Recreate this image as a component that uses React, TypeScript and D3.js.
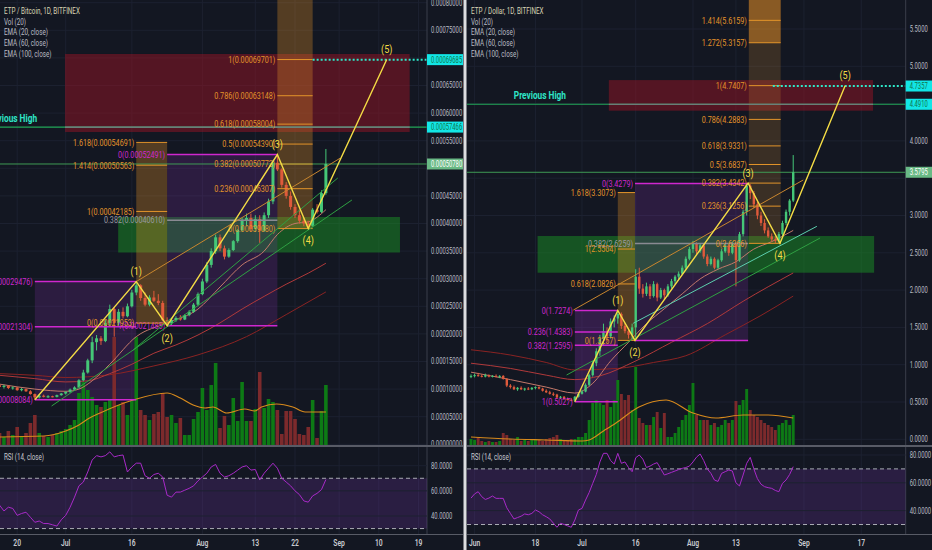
import React from "react";
import * as d3 from "d3";

const JUL1 = Date.UTC(2018, 6, 1);
const DAY = 86400000;
const dayToDate = (d: number) => new Date(JUL1 + d * DAY);

type Pt = [number, number];

// ================= LEFT: ETP / Bitcoin (prices in satoshi) =================
const L_START_DAY = -15; // 2018-06-16
const L_CANDLES: number[][] = [
  [10700, 11000, 10300, 10400], [10400, 10800, 10100, 10600], [10600, 10700, 10000, 10200], [10200, 10500, 9900, 10300],
  [10300, 10400, 9700, 9800], [9800, 10200, 9600, 10000], [10000, 10100, 9500, 9600], [9600, 9800, 9000, 9100],
  [9100, 9200, 8084, 8500], [8500, 9000, 8300, 8800], [8800, 9000, 8500, 8600], [8600, 8900, 8400, 8700],
  [8700, 8800, 8500, 8600], [8600, 9000, 8500, 8900], [8900, 9300, 8800, 9200], [9200, 9600, 9000, 9500],
  [9500, 10100, 9300, 9900], [9900, 10500, 9700, 10300], [10300, 11800, 10100, 11600], [11600, 13500, 11400, 13000],
  [13000, 15500, 12800, 15200], [15200, 19500, 14700, 18500], [18500, 19800, 17000, 19200], [19200, 19600, 18000, 18700],
  [18700, 22500, 18500, 22000], [22000, 25300, 21500, 24500], [24500, 24800, 19500, 22000], [22000, 24500, 21500, 24000],
  [24000, 24800, 22800, 23200], [23200, 25500, 23000, 25000], [25000, 28000, 24800, 27500], [27500, 29476, 27000, 28800],
  [28800, 29000, 26000, 26500], [26500, 27500, 25000, 25300], [25300, 27000, 25000, 26600], [26600, 27800, 25800, 26000],
  [26000, 27200, 25200, 25600], [25600, 26000, 22300, 22500], [22500, 23000, 21485, 21900], [21900, 22800, 21600, 22500],
  [22500, 23200, 22200, 22900], [22900, 23400, 22400, 22600], [22600, 23600, 22500, 23400], [23400, 24300, 23200, 24000],
  [24000, 25600, 23800, 25300], [25300, 27500, 25000, 27200], [27200, 30000, 27000, 29500], [29500, 33000, 29200, 32500],
  [32500, 35500, 32000, 35000], [35000, 38000, 34500, 37500], [37500, 38000, 35000, 35500], [35500, 36000, 33500, 34000],
  [34000, 35500, 33800, 35200], [35200, 37000, 35000, 36800], [36800, 39000, 36500, 38800], [38800, 41000, 38500, 40500],
  [40500, 41800, 39500, 41000], [41000, 41800, 38500, 39000], [39000, 41500, 38500, 40800], [40800, 41500, 36500, 38700],
  [38700, 42000, 38500, 41500], [41500, 44500, 41000, 44000], [44000, 51500, 43500, 51000], [51000, 52491, 49500, 49800],
  [49800, 50000, 46500, 47000], [47000, 47500, 44500, 45000], [45000, 45800, 42500, 43000], [43000, 43500, 41000, 41500],
  [41500, 42500, 40000, 40500], [40500, 41000, 39500, 40000], [40000, 40500, 39080, 39600], [39600, 42800, 39400, 42500],
  [42500, 43500, 41800, 42100], [42100, 46000, 41900, 45500], [45500, 53500, 45200, 50780],
];
const L_VOLUME = [
  12, 8, 14, 10, 18, 9, 12, 22, 30, 12, 9, 8, 10, 12, 14, 16, 20, 25, 52, 63, 55, 48, 40, 38, 43, 45, 108, 40, 43, 30,
  45, 108, 35, 30, 25, 31, 33, 52, 28, 30, 22, 27, 10, 10, 26, 33, 57, 35, 60, 82, 17, 29, 20, 47, 24, 63, 24, 24, 36,
  73, 37, 46, 43, 35, 11, 34, 34, 26, 11, 10, 18, 45, 7, 34, 60,
];
const L_VOL_MA: Pt[] = [
  [-15, 8], [-5, 9], [0, 14], [3, 20], [5, 26], [7.8, 32], [15.3, 45], [23, 52], [26, 47], [28.9, 40], [31.6, 37],
  [33.4, 38], [36.5, 32], [40.6, 36], [42.9, 34], [44.4, 38], [47.8, 41], [51.5, 38], [54.3, 33], [59, 33],
];
const L_EMA20: Pt[] = [
  [-15, 10900], [-7, 10000], [0, 9600], [3, 10000], [6, 11500], [10, 14500], [16, 19500], [23, 22000], [30, 24500],
  [35, 28500], [40, 32500], [45, 35000], [48, 38000], [52, 40000], [55, 40300], [59, 42500],
];
const L_EMA60: Pt[] = [
  [-15, 12500], [-7, 11900], [0, 11300], [5, 11500], [10, 12800], [15, 14500], [20, 16500], [25, 18000], [30, 19800],
  [35, 22000], [40, 24500], [45, 26800], [50, 29000], [55, 31000], [59, 32800],
];
const L_EMA100: Pt[] = [
  [-15, 12800], [-7, 12500], [0, 12100], [10, 12600], [20, 14200], [30, 16200], [41, 19500], [50, 23500], [59, 27600],
];
const L_RSI = [
  48.6, 44, 47, 46, 40.5, 42, 43, 39, 35, 36, 34, 34, 33, 32, 37, 40.5, 47, 55, 64, 67, 75, 84.5, 88, 87, 88, 91, 87,
  88, 88.5, 75, 79, 82, 82, 72, 70, 73, 74, 71, 56.5, 55, 59, 59, 60.5, 62, 64, 68, 71, 74, 79, 81, 74, 71, 72, 74, 76.5,
  79, 80, 76.5, 77, 68.6, 74, 78, 82, 78, 70, 67, 64, 60, 57, 52, 51, 56, 58, 61, 69,
];
const L_PRICE_TICKS = [0, 5000, 10000, 15000, 20000, 25000, 30000, 35000, 40000, 45000, 50000, 55000, 60000, 65000, 70000, 75000, 80000];
const L_TIME_TICKS: [string, string][] = [
  ["2018-06-20", "20"], ["2018-07-01", "Jul"], ["2018-07-16", "16"], ["2018-08-01", "Aug"], ["2018-08-13", "13"],
  ["2018-08-22", "22"], ["2018-09-01", "Sep"], ["2018-09-10", "10"], ["2018-09-19", "19"],
];
const L_FIB_EXT: Pt[] = [[1, 69701], [0.786, 63148], [0.618, 58004], [0.5, 54390], [0.382, 50773], [0.236, 46307], [0, 39080]];
const L_FIB_EXT2: Pt[] = [[1.618, 54691], [1.414, 50563], [1, 42185], [0, 21953]];
const L_FIB_A: Pt[] = [[0, 29476], [0.382, 21304], [1, 8084]];
const L_FIB_B: Pt[] = [[0, 52491], [0.382, 40610], [1, 21485]];
const L_WAVE: Pt[] = [[-7, 8084], [16, 29476], [23, 21485], [48, 52491], [55, 39080], [72.8, 69701]];
const L_WAVE_LABELS = ["", "(1)", "(2)", "(3)", "(4)", "(5)"];
const L_TRENDS: { pts: Pt[]; color: string }[] = [
  { pts: [[16, 29476], [62.2, 51812]], color: "#c8862e" },
  { pts: [[-3.2, 6938], [64.9, 44257]], color: "#2fa043" },
  { pts: [[15.3, 17083], [61.7, 48243]], color: "#2fa043" },
];

// ================= RIGHT: ETP / Dollar =================
const R_START_DAY = -31; // 2018-05-31
const R_CANDLES: number[][] = [
  [0.84, 0.87, 0.82, 0.85], [0.85, 0.88, 0.83, 0.86], [0.86, 0.89, 0.84, 0.85], [0.85, 0.87, 0.83, 0.84],
  [0.84, 0.88, 0.83, 0.86], [0.86, 0.87, 0.83, 0.84], [0.84, 0.86, 0.83, 0.85], [0.85, 0.87, 0.83, 0.84],
  [0.84, 0.86, 0.82, 0.85], [0.85, 0.86, 0.8, 0.81], [0.81, 0.82, 0.7, 0.72], [0.72, 0.74, 0.68, 0.7],
  [0.7, 0.72, 0.66, 0.67], [0.67, 0.7, 0.65, 0.69], [0.69, 0.71, 0.66, 0.67], [0.67, 0.69, 0.65, 0.68],
  [0.68, 0.7, 0.66, 0.67], [0.67, 0.7, 0.66, 0.69], [0.69, 0.71, 0.67, 0.7], [0.7, 0.71, 0.67, 0.68],
  [0.68, 0.69, 0.64, 0.65], [0.65, 0.67, 0.62, 0.63], [0.63, 0.65, 0.6, 0.61], [0.61, 0.63, 0.58, 0.6],
  [0.6, 0.61, 0.55, 0.56], [0.56, 0.58, 0.54, 0.57], [0.57, 0.58, 0.53, 0.54], [0.54, 0.56, 0.52, 0.53],
  [0.53, 0.55, 0.51, 0.52], [0.52, 0.58, 0.5027, 0.57], [0.57, 0.62, 0.56, 0.61], [0.61, 0.66, 0.6, 0.64],
  [0.64, 0.75, 0.63, 0.73], [0.73, 0.88, 0.71, 0.86], [0.86, 1.05, 0.84, 1.02], [1.02, 1.22, 0.98, 1.18],
  [1.18, 1.4, 1.12, 1.35], [1.35, 1.55, 1.25, 1.45], [1.45, 1.5, 1.3, 1.38], [1.38, 1.62, 1.35, 1.58],
  [1.58, 1.66, 1.5, 1.62], [1.62, 1.7274, 1.55, 1.68], [1.68, 1.7, 1.48, 1.52], [1.52, 1.56, 1.42, 1.45],
  [1.45, 1.48, 1.35, 1.4], [1.4, 1.55, 1.34, 1.5], [1.5, 2.28, 1.3257, 2.18], [2.18, 2.3, 1.95, 2.02],
  [2.02, 2.08, 1.9, 1.95], [1.95, 2.1, 1.92, 2.05], [2.05, 2.08, 1.88, 1.92], [1.92, 2.12, 1.9, 2.08],
  [2.08, 2.1, 1.85, 1.9], [1.9, 2.03, 1.88, 2.0], [2.0, 2.02, 1.88, 1.93], [1.93, 2.08, 1.91, 2.05],
  [2.05, 2.15, 2.02, 2.12], [2.12, 2.2, 2.08, 2.18], [2.18, 2.25, 2.14, 2.22], [2.22, 2.33, 2.2, 2.3],
  [2.3, 2.45, 2.28, 2.42], [2.42, 2.58, 2.4, 2.55], [2.55, 2.66, 2.5, 2.62], [2.62, 2.64, 2.48, 2.52],
  [2.52, 2.63, 2.5, 2.6], [2.6, 2.62, 2.42, 2.45], [2.45, 2.48, 2.32, 2.35], [2.35, 2.45, 2.33, 2.42],
  [2.42, 2.44, 2.28, 2.3], [2.3, 2.42, 2.28, 2.4], [2.4, 2.55, 2.38, 2.52], [2.52, 2.62, 2.5, 2.6],
  [2.6, 2.63, 2.46, 2.5], [2.5, 2.65, 2.48, 2.62], [2.62, 2.64, 2.05, 2.4], [2.4, 2.78, 2.38, 2.75],
  [2.75, 3.08, 2.72, 3.05], [3.05, 3.4342, 3.0, 3.4], [3.4, 3.42, 3.22, 3.3], [3.3, 3.33, 3.1, 3.15],
  [3.15, 3.18, 2.95, 3.0], [3.0, 3.05, 2.86, 2.9], [2.9, 2.95, 2.76, 2.8], [2.8, 2.84, 2.7, 2.72],
  [2.72, 2.76, 2.65, 2.68], [2.68, 2.72, 2.63, 2.66], [2.66, 2.78, 2.6266, 2.75], [2.75, 2.93, 2.72, 2.9],
  [2.9, 3.08, 2.87, 3.05], [3.05, 3.22, 3.0, 3.2], [3.2, 3.81, 3.18, 3.58],
];
const R_VOLUME = [
  6, 5, 7, 4, 3, 4, 3, 3, 4, 12, 10, 6, 5, 8, 4, 5, 4, 5, 6, 5, 4, 6, 7, 8, 10, 6, 5, 5, 6, 6, 8, 8, 12, 25, 42, 45, 42,
  40, 45, 38, 45, 65, 51, 45, 50, 35, 78, 27, 22, 20, 20, 28, 33, 17, 32, 8, 8, 12, 18, 25, 30, 40, 62, 30, 25, 25, 25,
  20, 22, 18, 20, 25, 22, 25, 44, 40, 45, 56, 35, 30, 28, 25, 22, 20, 18, 15, 20, 22, 25, 20, 30,
];
const R_VOL_MA: Pt[] = [
  [-31, 8], [-20, 6], [-10, 5], [0, 4], [2, 5], [6, 14], [9.5, 22], [15.9, 38], [23.5, 45], [31, 32], [37.4, 27],
  [45, 30], [52, 30], [59, 27],
];
const R_EMA20: Pt[] = [
  [-31, 0.9], [-20, 0.8], [-10, 0.7], [-2, 0.62], [3, 0.75], [8, 1.05], [13, 1.3], [18, 1.55], [23, 1.75], [28, 1.95],
  [33, 2.15], [38, 2.28], [43, 2.38], [48, 2.55], [53, 2.65], [59, 2.8],
];
const R_EMA60: Pt[] = [
  [-31, 1.02], [-20, 0.95], [-10, 0.86], [-2, 0.8], [5, 0.85], [15, 1.05], [25, 1.3], [35, 1.55], [45, 1.85], [59, 2.23],
];
const R_EMA100: Pt[] = [
  [-31, 1.2], [-20, 1.13], [-10, 1.03], [-2, 0.93], [10, 0.95], [20, 1.03], [29, 1.12], [40, 1.4], [50, 1.66], [59, 1.92],
];
const R_RSI = [
  49, 52, 53.6, 50, 48, 49, 50.5, 48.8, 48.8, 48.8, 42, 38, 34, 35, 36, 37.6, 37, 38, 40.4, 39.2, 37, 35.6, 34, 31, 28,
  30.9, 30, 29, 28, 33.2, 40.4, 41.6, 47.6, 53, 59.6, 66, 75, 81.2, 81.2, 76, 73.5, 81.2, 74, 75, 71, 68, 78, 80, 77,
  71, 72, 73.5, 74.5, 70, 65.6, 66.5, 67.5, 68.5, 69.5, 70.4, 71, 72, 75, 78.5, 80.7, 76, 70, 66.8, 62, 61, 66.8, 68,
  69.2, 68.5, 60, 57.7, 65.6, 74, 78.3, 70, 63, 59, 57.2, 56.5, 56, 54.5, 53.6, 59.6, 62, 66, 71.6,
];
const R_PRICE_TICKS = [0, 0.5, 1, 1.5, 2, 2.5, 3, 3.5, 4, 4.5, 5, 5.5];
const R_TIME_TICKS: [string, string][] = [
  ["2018-06-01", "Jun"], ["2018-06-18", "18"], ["2018-07-01", "Jul"], ["2018-07-16", "16"], ["2018-08-01", "Aug"],
  ["2018-08-13", "13"], ["2018-09-01", "Sep"], ["2018-09-17", "17"],
];
const R_FIB_EXT: Pt[] = [
  [1.414, 5.6159], [1.272, 5.3157], [1, 4.7407], [0.786, 4.2883], [0.618, 3.9331], [0.5, 3.6837], [0.382, 3.4342],
  [0.236, 3.1256], [0, 2.6266],
];
const R_FIB_EXT2: Pt[] = [[1.618, 3.3073], [1, 2.5504], [0.618, 2.0826], [0, 1.3257]];
const R_FIB_A: Pt[] = [[0, 1.7274], [0.236, 1.4383], [0.382, 1.2595], [1, 0.5027]];
const R_FIB_B: Pt[] = [[0, 3.4279], [0.382, 2.6259], [1, 1.3257]];
const R_WAVE: Pt[] = [[-2, 0.5027], [10, 1.7274], [14.8, 1.3257], [46.4, 3.4342], [55.3, 2.6266], [73.5, 4.7407]];
const R_WAVE_LABELS = ["", "(1)", "(2)", "(3)", "(4)", "(5)"];
const R_TRENDS: { pts: Pt[]; color: string }[] = [
  { pts: [[-2.4, 1.733], [61.8, 3.476]], color: "#c8862e" },
  { pts: [[-4.3, 0.862], [66.5, 2.698]], color: "#2fa043" },
  { pts: [[14.3, 1.555], [65.6, 2.855]], color: "#5ccfae" },
];

// ================= styling =================
const BG = "#131722";
const GRID = "#1c2130";
const UP = "#45c777";
const DOWN = "#df5a3b";
const VOL_UP = "#0d7a15";
const VOL_DOWN = "#7c2a2c";
const ORANGE = "#e3942a";
const MAGENTA = "#cf27cf";
const YELLOW = "#f4dc45";
const CYAN = "#2fe6c8";
const FONT = "Roboto, 'DejaVu Sans', sans-serif";

function Txt(props: {
  x: number; y: number; s: string; size?: number; sx?: number; anchor?: string; fill?: string; weight?: number;
}) {
  const { x, y, s, size = 8.5, sx = 0.69, anchor = "start", fill = "#b2b5be", weight = 400 } = props;
  return (
    <text
      transform={`translate(${x},${y}) scale(${sx},1)`}
      fontSize={size}
      textAnchor={anchor as any}
      dominantBaseline="central"
      fill={fill}
      fontWeight={weight}
      fontFamily={FONT}
    >
      {s}
    </text>
  );
}

interface FibSpec {
  levels: Pt[]; days: Pt; lineColor: string; labelColor: string; fill: string;
  bandFromTop?: boolean; hiFill?: { to: number; color: string }; grayRatio?: number; hideRatios?: number[];
  lineWidth?: number;
}

interface Cfg {
  id: string; left: number; axisX: number; right: number; dayDomain: Pt; priceDomain: Pt; priceRange: Pt;
  priceTicks: number[]; fmt: (v: number) => string; startDay: number; candles: number[][]; volume: number[];
  volMA: Pt[]; emas: { pts: Pt[]; color: string; w: number }[]; rsi: number[]; rsiY: Pt; timeTicks: [string, string][];
  title: string; redBox: { days: Pt; prices: Pt }; greenBox: { days: Pt; prices: Pt }; fibs: FibSpec[];
  wave: Pt[]; waveLabels: string[]; trends: { pts: Pt[]; color: string }[];
  prevHigh: { price: number; labelDay: number; grayDays: Pt }; target: { price: number; fromDay: number };
  markers: { price: number; text: string; kind: string }[]; bodyW: number; volW: number;
}

const LEFT: Cfg = {
  id: "L", left: 0, axisX: 427, right: 463, dayDomain: [-14.898, 81.93], priceDomain: [0, 80000], priceRange: [444.3, 2.7],
  priceTicks: L_PRICE_TICKS, fmt: (v) => (v * 1e-8).toFixed(8), startDay: L_START_DAY, candles: L_CANDLES,
  volume: L_VOLUME, volMA: L_VOL_MA,
  emas: [
    { pts: L_EMA100, color: "#8a2323", w: 1 },
    { pts: L_EMA60, color: "#b0393a", w: 1 },
    { pts: L_EMA20, color: "#c4796a", w: 1 },
  ],
  rsi: L_RSI, rsiY: [516, 465.7], timeTicks: L_TIME_TICKS, title: "ETP / Bitcoin, 1D, BITFINEX",
  redBox: { days: [-0.15, 78], prices: [70707, 56576] },
  greenBox: { days: [11.9, 75.8], prices: [41177, 34746] },
  fibs: [
    { levels: L_FIB_A, days: [-7, 16], lineColor: MAGENTA, labelColor: MAGENTA, fill: "rgba(125,45,165,0.24)", lineWidth: 1.5 },
    { levels: L_FIB_B, days: [23, 48], lineColor: MAGENTA, labelColor: MAGENTA, fill: "rgba(125,45,165,0.24)", grayRatio: 0.382, lineWidth: 1.5 },
    { levels: L_FIB_EXT2, days: [16, 23], lineColor: ORANGE, labelColor: ORANGE, fill: "rgba(220,140,40,0.33)" },
    { levels: L_FIB_EXT, days: [48, 56], lineColor: ORANGE, labelColor: ORANGE, fill: "rgba(220,140,40,0.33)", bandFromTop: true },
  ],
  wave: L_WAVE, waveLabels: L_WAVE_LABELS, trends: L_TRENDS,
  prevHigh: { price: 57466, labelDay: -6.5, grayDays: [-0.15, 78] }, target: { price: 69685, fromDay: 56 },
  markers: [
    { price: 69685, text: "0.00069685", kind: "cyan" },
    { price: 57466, text: "0.00057466", kind: "cyan" },
    { price: 50780, text: "0.00050780", kind: "green" },
  ],
  bodyW: 3, volW: 3.6,
};

const RIGHT: Cfg = {
  id: "R", left: 467, axisX: 905.7, right: 932, dayDomain: [-32.12, 90.42], priceDomain: [0, 5.5], priceRange: [439.3, 29],
  priceTicks: R_PRICE_TICKS, fmt: (v) => v.toFixed(4), startDay: R_START_DAY, candles: R_CANDLES,
  volume: R_VOLUME, volMA: R_VOL_MA,
  emas: [
    { pts: R_EMA100, color: "#8a2323", w: 1 },
    { pts: R_EMA60, color: "#b0393a", w: 1 },
    { pts: R_EMA20, color: "#c4796a", w: 1 },
  ],
  rsi: R_RSI, rsiY: [510.6, 455], timeTicks: R_TIME_TICKS, title: "ETP / Dollar, 1D, BITFINEX",
  redBox: { days: [7.5, 81.3], prices: [4.815, 4.405] },
  greenBox: { days: [-12.4, 81.6], prices: [2.725, 2.233] },
  fibs: [
    { levels: R_FIB_A, days: [-2, 10], lineColor: MAGENTA, labelColor: MAGENTA, fill: "rgba(125,45,165,0.3)", lineWidth: 1.5 },
    { levels: R_FIB_B, days: [14.8, 46.4], lineColor: MAGENTA, labelColor: MAGENTA, fill: "rgba(125,45,165,0.24)", grayRatio: 0.382, hideRatios: [1], lineWidth: 1.5 },
    { levels: R_FIB_EXT2, days: [10, 14.8], lineColor: ORANGE, labelColor: ORANGE, fill: "rgba(220,140,40,0.33)" },
    { levels: R_FIB_EXT, days: [46.6, 55.5], lineColor: ORANGE, labelColor: ORANGE, fill: "rgba(200,135,50,0.22)", bandFromTop: true, hiFill: { to: 5.3157, color: "rgba(235,145,35,0.45)" } },
  ],
  wave: R_WAVE, waveLabels: R_WAVE_LABELS, trends: R_TRENDS,
  prevHigh: { price: 4.491, labelDay: -4.47, grayDays: [7.5, 81.3] }, target: { price: 4.7357, fromDay: 53.3 },
  markers: [
    { price: 4.7357, text: "4.7357", kind: "cyan" },
    { price: 4.491, text: "4.4910", kind: "cyan" },
    { price: 3.5795, text: "3.5795", kind: "green" },
  ],
  bodyW: 2.4, volW: 2.9,
};

const PRICE_BOTTOM = 446;
const RSI_TOP = 447;
const RSI_BOTTOM = 534;
const VOL_BASE = 445;

function Panel({ c }: { c: Cfg }) {
  const x = d3.scaleUtc().domain([dayToDate(c.dayDomain[0]), dayToDate(c.dayDomain[1])]).range([c.left, c.axisX]);
  const xd = (d: number) => x(dayToDate(d));
  const y = d3.scaleLinear().domain(c.priceDomain).range(c.priceRange);
  const vy = d3.scaleLinear().domain([0, 100]).range([VOL_BASE, VOL_BASE - 100]);
  const ry = d3.scaleLinear().domain([40, 80]).range(c.rsiY);
  const curve = d3.line<Pt>().x((p) => xd(p[0])).y((p) => y(p[1])).curve(d3.curveMonotoneX);
  const volLine = d3.line<Pt>().x((p) => xd(p[0])).y((p) => vy(p[1])).curve(d3.curveMonotoneX);
  const rsiLine = d3.line<number>().x((_, i) => xd(c.startDay + i)).y((v) => ry(v));
  const straight = d3.line<Pt>().x((p) => xd(p[0])).y((p) => y(p[1]));
  const clipP = `clipP${c.id}`;
  const clipR = `clipR${c.id}`;
  const pw = c.axisX - c.left;
  const markerYs = c.markers.map((m) => y(m.price));

  return (
    <g>
      <defs>
        <clipPath id={clipP}><rect x={c.left} y={0} width={pw} height={PRICE_BOTTOM} /></clipPath>
        <clipPath id={clipR}><rect x={c.left} y={RSI_TOP} width={pw} height={RSI_BOTTOM - RSI_TOP} /></clipPath>
      </defs>

      {/* grid */}
      {c.timeTicks.map(([ds, _], i) => {
        const gx = x(new Date(ds + "T00:00:00Z"));
        return <line key={"vg" + i} x1={gx} x2={gx} y1={0} y2={RSI_BOTTOM} stroke={GRID} strokeWidth={1} />;
      })}
      {c.priceTicks.map((t, i) => (
        <line key={"hg" + i} x1={c.left} x2={c.axisX} y1={y(t)} y2={y(t)} stroke={GRID} strokeWidth={1} />
      ))}

      <g clipPath={`url(#${clipP})`}>
        {/* zones */}
        <rect x={xd(c.redBox.days[0])} width={xd(c.redBox.days[1]) - xd(c.redBox.days[0])} y={y(c.redBox.prices[0])}
          height={y(c.redBox.prices[1]) - y(c.redBox.prices[0])} fill="rgba(150,20,35,0.5)" />
        <rect x={xd(c.greenBox.days[0])} width={xd(c.greenBox.days[1]) - xd(c.greenBox.days[0])} y={y(c.greenBox.prices[0])}
          height={y(c.greenBox.prices[1]) - y(c.greenBox.prices[0])} fill="rgba(25,145,35,0.5)" />

        {/* fib fills */}
        {c.fibs.map((f, i) => {
          const ps = f.levels.map((l) => l[1]);
          const top = f.bandFromTop ? 0 : y(d3.max(ps)!);
          const bot = y(d3.min(ps)!);
          const x0 = xd(f.days[0]);
          const x1 = xd(f.days[1]);
          return (
            <g key={"ff" + i}>
              <rect x={x0} y={top} width={x1 - x0} height={bot - top} fill={f.fill} />
              {f.hiFill && <rect x={x0} y={0} width={x1 - x0} height={y(f.hiFill.to)} fill={f.hiFill.color} />}
            </g>
          );
        })}

        {/* volume */}
        {c.volume.map((v, i) => {
          const cd = c.candles[i];
          const up = cd[3] >= cd[0];
          const cx = xd(c.startDay + i);
          return <rect key={"v" + i} x={cx - c.volW / 2} y={vy(v)} width={c.volW} height={VOL_BASE - vy(v)} fill={up ? VOL_UP : VOL_DOWN} />;
        })}
        <path d={volLine(c.volMA)!} fill="none" stroke="#d88a1c" strokeWidth={1.2} />

        {/* previous high / price lines */}
        <line x1={c.left} x2={c.axisX} y1={y(c.prevHigh.price)} y2={y(c.prevHigh.price)} stroke="#22a858" strokeWidth={1.2} />
        <line x1={xd(c.prevHigh.grayDays[0])} x2={xd(c.prevHigh.grayDays[1])} y1={y(c.prevHigh.price)} y2={y(c.prevHigh.price)} stroke="#7d7f88" strokeWidth={1.2} />
        <line x1={c.left} x2={c.axisX} y1={markerYs[2]} y2={markerYs[2]} stroke="#3f9a55" strokeWidth={1} />

        {/* EMAs */}
        {c.emas.map((e, i) => (
          <path key={"e" + i} d={curve(e.pts)!} fill="none" stroke={e.color} strokeWidth={e.w} />
        ))}

        {/* candles */}
        {c.candles.map((cd, i) => {
          const [o, h, l, cl] = cd;
          const up = cl >= o;
          const col = up ? UP : DOWN;
          const cx = xd(c.startDay + i);
          const yt = y(Math.max(o, cl));
          const yb = y(Math.min(o, cl));
          return (
            <g key={"c" + i}>
              <line x1={cx} x2={cx} y1={y(h)} y2={y(l)} stroke={col} strokeWidth={1} />
              <rect x={cx - c.bodyW / 2} y={yt} width={c.bodyW} height={Math.max(1, yb - yt)} fill={col} />
            </g>
          );
        })}

        {/* fib lines and labels */}
        {c.fibs.map((f, i) => {
          const x0 = xd(f.days[0]);
          const x1 = xd(f.days[1]);
          return (
            <g key={"fl" + i}>
              {f.levels.map(([r, p], j) => {
                const gray = f.grayRatio !== undefined && r === f.grayRatio;
                const col = gray ? "#8a8a92" : f.lineColor;
                const hide = f.hideRatios && f.hideRatios.includes(r);
                return (
                  <g key={j}>
                    <line x1={x0} x2={x1} y1={y(p)} y2={y(p)} stroke={col} strokeWidth={f.lineWidth ?? 1} />
                    {!hide && (
                      <Txt x={x0 - 2} y={y(p)} s={`${r}(${c.fmt(p)})`} size={9} sx={0.8} anchor="end" fill={gray ? "#9a9aa2" : f.labelColor} />
                    )}
                  </g>
                );
              })}
            </g>
          );
        })}

        {/* trend lines */}
        {c.trends.map((t, i) => (
          <path key={"t" + i} d={straight(t.pts)!} fill="none" stroke={t.color} strokeWidth={1} />
        ))}

        {/* target dotted */}
        <line x1={xd(c.target.fromDay)} x2={c.axisX} y1={y(c.target.price)} y2={y(c.target.price)} stroke={CYAN} strokeWidth={2} strokeDasharray="2,2" />

        {/* wave */}
        <path d={straight(c.wave)!} fill="none" stroke={YELLOW} strokeWidth={1.4} />
        {c.wave.map(([d, p], i) => {
          if (!c.waveLabels[i]) return null;
          const peak = i % 2 === 1;
          return <Txt key={"w" + i} x={xd(d)} y={y(p) + (peak ? -10 : 12)} s={c.waveLabels[i]} size={11} sx={0.82} anchor="middle" fill={YELLOW} />;
        })}

        {/* previous high label */}
        <Txt x={xd(c.prevHigh.labelDay)} y={y(c.prevHigh.price) - 9} s="Previous High" size={10.5} sx={0.79} anchor="end" fill={CYAN} weight={700} />
      </g>

      {/* price axis */}
      <line x1={c.axisX} x2={c.axisX} y1={0} y2={RSI_BOTTOM} stroke="#3a3e4a" strokeWidth={1} />
      {c.priceTicks.map((t, i) => {
        const ty = y(t);
        if (markerYs.some((my) => Math.abs(my - ty) < 7)) return null;
        return <Txt key={"pt" + i} x={c.axisX + 4} y={ty} s={c.fmt(t)} size={8.5} sx={0.69} fill="#b9bcc4" />;
      })}
      {c.markers.map((m, i) => {
        const my = y(m.price);
        const cyan = m.kind === "cyan";
        return (
          <g key={"m" + i}>
            <rect x={c.axisX} y={my - 5.5} width={c.right - c.axisX} height={11} fill={cyan ? "#12e6e6" : "#69b985"} />
            <Txt x={c.axisX + 4} y={my} s={m.text} size={8.5} sx={0.69} fill={cyan ? "#11744a" : "#ffffff"} />
          </g>
        );
      })}

      {/* titles */}
      <Txt x={c.left + 4} y={11} s={c.title} size={9} sx={0.7} fill="#d9d4b4" />
      <Txt x={c.left + 4} y={21.7} s="Vol (20)" size={9} sx={0.7} fill="#b9bcc4" />
      <Txt x={c.left + 4} y={32.3} s="EMA (20, close)" size={9} sx={0.7} fill="#b9bcc4" />
      <Txt x={c.left + 4} y={43} s="EMA (60, close)" size={9} sx={0.7} fill="#b9bcc4" />
      <Txt x={c.left + 4} y={53.7} s="EMA (100, close)" size={9} sx={0.7} fill="#b9bcc4" />

      {/* RSI pane */}
      <line x1={c.left} x2={c.right} y1={PRICE_BOTTOM} y2={PRICE_BOTTOM} stroke="#585b66" strokeWidth={2} />
      <g clipPath={`url(#${clipR})`}>
        <rect x={c.left} y={ry(70)} width={pw} height={ry(30) - ry(70)} fill="rgba(110,50,165,0.25)" />
        {[40, 60, 80].map((t) => (
          <line key={"rg" + t} x1={c.left} x2={c.axisX} y1={ry(t)} y2={ry(t)} stroke={GRID} strokeWidth={1} />
        ))}
        <line x1={c.left} x2={c.axisX} y1={ry(70)} y2={ry(70)} stroke="#a9abb3" strokeWidth={1} strokeDasharray="4,3" />
        <line x1={c.left} x2={c.axisX} y1={ry(30)} y2={ry(30)} stroke="#a9abb3" strokeWidth={1} strokeDasharray="4,3" />
        <path d={rsiLine(c.rsi)!} fill="none" stroke="#a82ac8" strokeWidth={1} />
      </g>
      <Txt x={c.left + 4} y={457} s="RSI (14, close)" size={9} sx={0.7} fill="#c6c8ce" />
      {[40, 60, 80].map((t) => (
        <Txt key={"rt" + t} x={c.axisX + 4} y={ry(t)} s={t.toFixed(4)} size={8.5} sx={0.69} fill="#b9bcc4" />
      ))}

      {/* time axis */}
      <line x1={c.left} x2={c.right} y1={RSI_BOTTOM + 0.5} y2={RSI_BOTTOM + 0.5} stroke="#585b66" strokeWidth={1} />
      {c.timeTicks.map(([ds, lab], i) => (
        <Txt key={"tt" + i} x={x(new Date(ds + "T00:00:00Z"))} y={543} s={lab} size={9} sx={0.75} anchor="middle" fill="#c9cbd1" weight={600} />
      ))}
    </g>
  );
}

export default function App() {
  return (
    <svg width={932} height={550} style={{ position: "absolute", left: 0, top: 0, display: "block" }}>
      <rect x={0} y={0} width={932} height={550} fill={BG} />
      <Panel c={LEFT} />
      <Panel c={RIGHT} />
      <rect x={463.5} y={0} width={3} height={550} fill="#dcdde0" />
    </svg>
  );
}
